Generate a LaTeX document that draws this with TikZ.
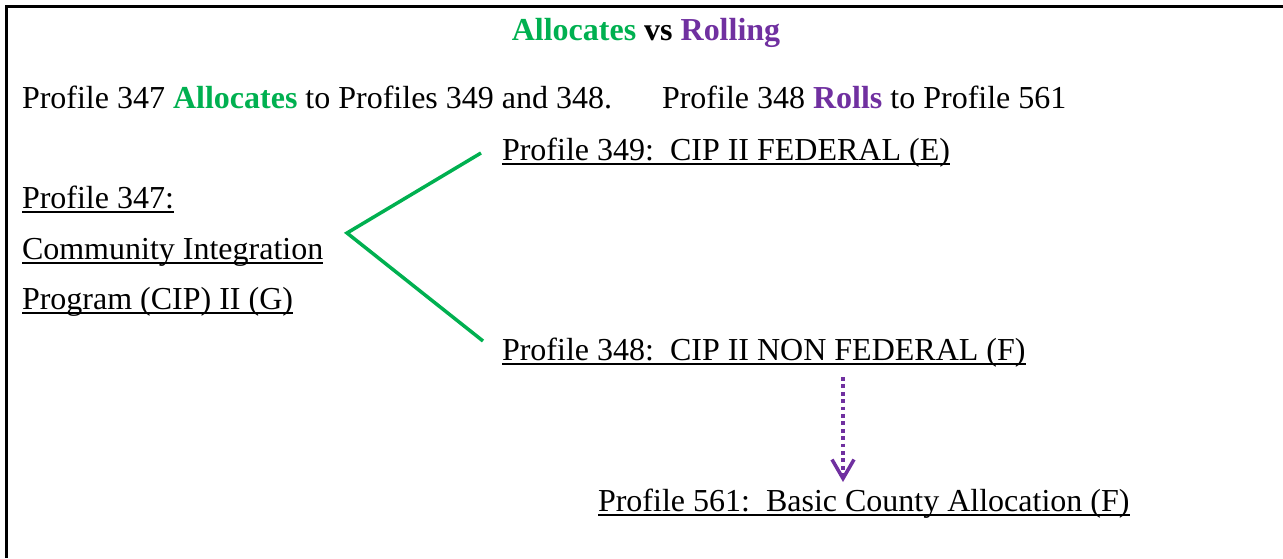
\documentclass[tikz,border=0pt]{standalone}
\usepackage{fontspec}
\setmainfont{Liberation Serif}
\usetikzlibrary{arrows.meta}
\definecolor{allocgreen}{HTML}{00B050}
\definecolor{rollpurple}{HTML}{7030A0}
\newcommand\ulx[1]{\setbox0\hbox{#1}\rlap{\rule[-4.5pt]{\wd0}{2pt}}\box0}
\tikzset{
  txt/.style={anchor=base west, inner sep=0pt, outer sep=0pt, font=\fontsize{32}{38}\selectfont},
  ttl/.style={anchor=base, inner sep=0pt, outer sep=0pt, font=\fontsize{32}{38}\selectfont\bfseries},
  alloc/.style={draw=allocgreen, line width=3.5pt},
  roll/.style={draw=rollpurple, line width=3.8pt, dash pattern=on 3.8pt off 3.6pt,
    -{Straight Barb[length=19pt,width=22pt,line width=3.5pt]}},
  frame/.style={line width=2.5pt}
}
\begin{document}
\begin{tikzpicture}[x=1pt,y=1pt]
\useasboundingbox (0,0) rectangle (1283,-558);
\coordinate (fb) at (6.5,-558);
\coordinate (ftl) at (6.5,-6.5);
\coordinate (ftr) at (1283,-6.5);
\draw[frame] (fb) -- (ftl) -- (ftr);
\node[ttl] (title) at (646,-40) {\textcolor{allocgreen}{Allocates} vs \textcolor{rollpurple}{Rolling}};
\node[txt] (l1) at (22,-108) {Profile 347 \textbf{\textcolor{allocgreen}{Allocates}} to Profiles 349 and 348.};
\node[txt] (l2) at (662,-108) {Profile 348 \textbf{\textcolor{rollpurple}{Rolls}} to Profile 561};
\node[txt] (p349) at (502,-160) {\ulx{Profile 349:\ \ CIP II FEDERAL (E)}};
\node[txt] (p347a) at (22,-208) {\ulx{Profile 347:}};
\node[txt] (p347b) at (22,-259) {\ulx{Community Integration}};
\node[txt] (p347c) at (22,-309) {\ulx{Program (CIP) II (G)}};
\node[txt] (p348) at (502,-360) {\ulx{Profile 348:\ \ CIP II NON FEDERAL (F)}};
\node[txt] (p561) at (598,-511) {\ulx{Profile 561:\ \ Basic County Allocation (F)}};
\coordinate (v) at (347,-233);
\coordinate (e349) at (481,-153);
\coordinate (e348) at (483,-341);
\draw[alloc] (e349) -- (v) -- (e348);
\coordinate (r1) at (843,-377);
\coordinate (r2) at (843,-482);
\draw[roll] (r1) -- (r2);
\end{tikzpicture}
\end{document}
